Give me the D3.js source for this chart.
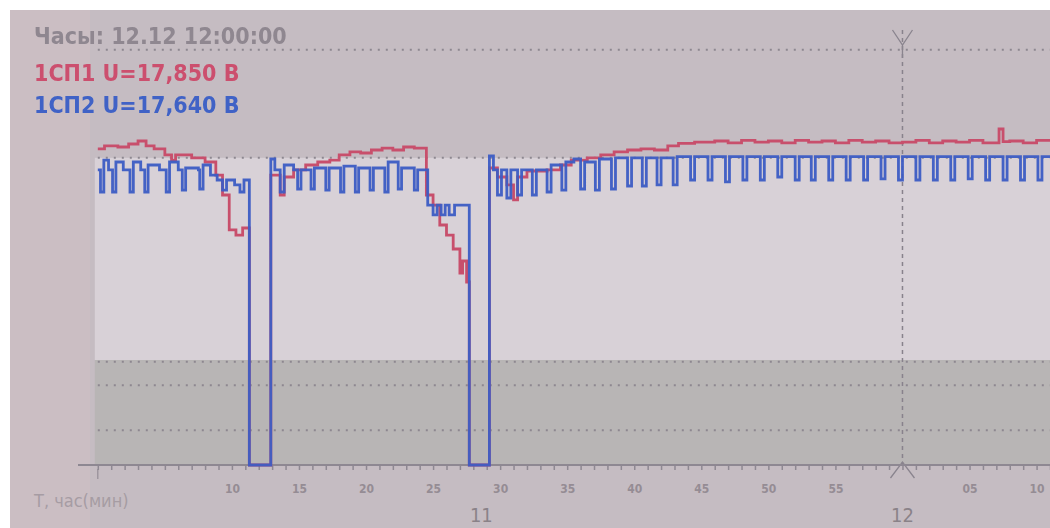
<!DOCTYPE html>
<html><head><meta charset="utf-8">
<script src="https://cdn.jsdelivr.net/npm/d3@7"></script>
<style>
html,body{margin:0;padding:0;background:#fff;}
svg{display:block;}
text{font-family:"DejaVu Sans Condensed","Liberation Sans Narrow","Liberation Sans",sans-serif;}
</style></head>
<body>
<svg id="chart" width="1050" height="528"></svg>
<script>
// ---- data (minutes after start, volts) ----
const redT = [0,0.5,1.5,2.3,3.0,3.6,4.2,5.0,5.5,5.8,7.0,8.0,8.8,9.3,9.8,10.3,10.8,11.3,12.9,13.6,13.9,14.6,15.5,16.4,17.3,18.0,18.8,19.6,20.4,21.2,22.0,22.8,23.6,24.5,25.0,25.5,26.0,26.5,27.0,27.2,27.5,27.7,29.2,29.8,30.5,31.0,31.3,32.0,33.5,34.5,35.3,36.5,37.5,38.5,39.5,40.5,41.5,42.5,43.3,44.5,46,47,48,49,50,51,52,53,54,55,56,57,58,59,60,61,62,63,64,65,66,67.2,67.5,68,69,70,71];
const redV = [17.77,17.82,17.80,17.85,17.90,17.82,17.77,17.67,17.58,17.67,17.62,17.55,17.33,17.00,16.42,16.33,16.45,12.5,17.33,17.00,17.30,17.42,17.50,17.55,17.58,17.67,17.72,17.70,17.75,17.78,17.75,17.80,17.78,17.00,16.83,16.50,16.33,16.10,15.70,15.90,15.55,12.5,17.45,17.30,17.17,16.92,17.30,17.40,17.42,17.50,17.58,17.62,17.67,17.72,17.75,17.77,17.75,17.82,17.86,17.88,17.90,17.87,17.91,17.88,17.90,17.87,17.91,17.88,17.90,17.87,17.91,17.88,17.90,17.87,17.88,17.91,17.87,17.90,17.88,17.91,17.87,18.10,17.89,17.90,17.87,17.91,17.89];

const blueT = [0,0.2,0.45,0.8,1.1,1.35,1.9,2.4,2.65,3.2,3.5,3.75,4.6,5.1,5.35,6.0,6.3,6.55,7.5,7.6,7.85,8.4,8.9,9.3,9.6,10.2,10.6,10.9,11.3,12.9,13.2,13.6,13.9,14.6,14.9,15.15,15.9,16.15,17.0,17.25,18.1,18.35,19.2,19.45,20.3,20.55,21.4,21.65,22.4,22.65,23.6,23.85,24.6,25.0,25.3,25.6,25.9,26.2,26.6,27.7,29.2,29.5,29.8,30.1,30.5,30.8,31.3,31.6,32.4,32.7,33.5,33.8,34.6,34.9,35.5,36.0,36.3,37.1,37.4,38.3,38.6,39.5,39.8,40.6,40.9,41.7,42.0,42.9,43.2,44.2,44.5,45.5,45.8,46.8,47.1,48.1,48.4,49.4,49.7,50.7,51.0,52.0,52.3,53.2,53.5,54.5,54.8,55.8,56.1,57.1,57.4,58.4,58.7,59.7,60.0,61.0,61.3,62.3,62.6,63.6,63.9,64.9,65.2,66.2,66.5,67.5,67.8,68.8,69.1,70.1,70.4,71];
const blueV = [17.42,17.05,17.58,17.42,17.05,17.55,17.42,17.05,17.55,17.42,17.05,17.50,17.42,17.05,17.55,17.42,17.08,17.45,17.42,17.10,17.50,17.33,17.25,17.08,17.25,17.17,17.05,17.25,12.5,17.60,17.42,17.05,17.50,17.42,17.10,17.42,17.10,17.45,17.08,17.45,17.05,17.48,17.05,17.45,17.08,17.45,17.05,17.55,17.10,17.45,17.08,17.42,16.83,16.67,16.83,16.67,16.83,16.67,16.83,12.5,17.65,17.42,17.00,17.42,16.95,17.42,17.00,17.42,17.00,17.42,17.05,17.50,17.08,17.55,17.60,17.10,17.55,17.08,17.60,17.10,17.62,17.15,17.62,17.15,17.62,17.17,17.62,17.17,17.64,17.25,17.64,17.25,17.64,17.22,17.64,17.25,17.64,17.25,17.64,17.30,17.64,17.25,17.64,17.25,17.64,17.25,17.64,17.25,17.64,17.25,17.64,17.27,17.64,17.25,17.64,17.25,17.64,17.25,17.64,17.25,17.64,17.27,17.64,17.25,17.64,17.25,17.64,17.25,17.64,17.25,17.64,17.64];

const gridVolts = [19.42, 17.62, 14.22, 13.83, 13.08];
const bandHigh = [17.62, 14.25];   // light normal band (upper, lower)
const bandLow = [14.25, 12.5];     // darker band
const tickMinutes = [10,15,20,25,30,35,40,45,50,55,65,70];
const tickLabels = ["10","15","20","25","30","35","40","45","50","55","05","10"];
const hourTicks = [28.6, 60];
const hourLabels = ["11","12"];
const cursorT = 60;
const headerText = "Часы: 12.12 12:00:00";
const seriesNames = ["1СП1 U=17,850 В", "1СП2 U=17,640 В"];

// ---- drawing ----
const svg = d3.select("#chart");
const W = 1050, H = 528;
const x = d3.scaleLinear().domain([0, 71]).range([97.8, 1050]);
const y = d3.scaleLinear().domain([12.5, 18.5]).range([465, 105]);

const defs = svg.append("defs");
defs.append("filter").attr("id","soft2").append("feGaussianBlur").attr("stdDeviation",0.55);

// photo background
svg.append("rect").attr("width",W).attr("height",H).attr("fill","#ffffff");
svg.append("rect").attr("x",10).attr("y",10).attr("width",W-10).attr("height",H-10).attr("fill","#c5bcc2");
svg.append("rect").attr("x",10).attr("y",10).attr("width",80).attr("height",H-10).attr("fill","#cbbec3");

// bands
svg.append("rect").attr("x",x(0)-3).attr("y",y(bandHigh[0])).attr("width",W-x(0)+3)
  .attr("height",y(bandHigh[1])-y(bandHigh[0])).attr("fill","#d8d1d7");
svg.append("rect").attr("x",x(0)-3).attr("y",y(bandLow[0])).attr("width",W-x(0)+3)
  .attr("height",y(bandLow[1])-y(bandLow[0])).attr("fill","#b8b5b5");

// grid lines (dotted)
svg.append("g").selectAll("line").data(gridVolts).join("line")
  .attr("x1",x(0)).attr("x2",W).attr("y1",d=>y(d)).attr("y2",d=>y(d))
  .attr("stroke","#8d8790").attr("stroke-width",2).attr("stroke-dasharray","2,6");

// cursor line
svg.append("line").attr("x1",x(cursorT)).attr("x2",x(cursorT)).attr("y1",30).attr("y2",470)
  .attr("stroke","#88828c").attr("stroke-width",1.5).attr("stroke-dasharray","4,4");
const cx = x(cursorT);
svg.append("path").attr("d",`M${cx-10},30 L${cx},45 L${cx+10},30 M${cx},45 L${cx},58`)
  .attr("stroke","#8a848e").attr("fill","none").attr("stroke-width",1.3);
svg.append("path").attr("d",`M${cx-12},478 L${cx},462 L${cx+12},478`)
  .attr("stroke","#8a848e").attr("fill","none").attr("stroke-width",1.3);

// axis
const axisG = svg.append("g").attr("transform",`translate(0,${y(12.5)})`);
axisG.append("line").attr("x1",78).attr("x2",W).attr("y1",0).attr("y2",0)
  .attr("stroke","#8e8892").attr("stroke-width",2);
const minor = axisG.append("g").call(d3.axisBottom(x).tickValues(d3.range(0,72,1)).tickSize(5).tickFormat(""));
minor.select(".domain").remove();
minor.selectAll("line").attr("stroke","#8e8892").attr("stroke-width",1.5);
const major = axisG.append("g").call(d3.axisBottom(x).tickValues(tickMinutes).tickSize(0).tickPadding(19)
  .tickFormat((d,i)=>tickLabels[i]));
major.select(".domain").remove();
major.selectAll("text").attr("fill","#958c94").attr("font-size",12).attr("font-weight","bold");
axisG.append("line").attr("x1",x(0)).attr("x2",x(0)).attr("y1",4).attr("y2",14)
  .attr("stroke","#948c96").attr("stroke-width",1.2);

// hour labels
svg.append("g").selectAll("text").data(hourTicks).join("text")
  .attr("x",d=>x(d)).attr("y",522).attr("text-anchor","middle")
  .attr("fill","#8a8288").attr("font-size",20).text((d,i)=>hourLabels[i]);

svg.append("text").attr("x",34).attr("y",507).attr("fill","#a69ca3").attr("font-size",18)
  .text("T, час(мин)");

// series
const line = d3.line().x(d=>x(d[0])).y(d=>y(d[1])).curve(d3.curveStepAfter);
const redData = redT.map((t,i)=>[t,redV[i]]);
const blueData = blueT.map((t,i)=>[t,blueV[i]]);
const plot = svg.append("g").attr("filter","url(#soft2)");
plot.append("path").attr("d",line(redData)).attr("fill","none").attr("stroke","#c8506c")
  .attr("stroke-width",2.8).attr("stroke-linejoin","miter");
plot.append("path").attr("d",line(blueData)).attr("fill","none").attr("stroke","#3d5cc4")
  .attr("stroke-width",2.8).attr("stroke-linejoin","miter").attr("stroke-opacity",0.95);

// legend / header
const lg = svg.append("g").attr("filter","url(#soft2)");
lg.append("text").attr("x",34).attr("y",44).attr("fill","#8f8790").attr("font-size",23)
  .attr("font-weight","bold").text(headerText);
lg.append("text").attr("x",34).attr("y",81).attr("fill","#cc4f6e").attr("font-size",23)
  .attr("font-weight","bold").text(seriesNames[0]);
lg.append("text").attr("x",34).attr("y",113).attr("fill","#3f62c6").attr("font-size",23)
  .attr("font-weight","bold").text(seriesNames[1]);
</script>
</body></html>
